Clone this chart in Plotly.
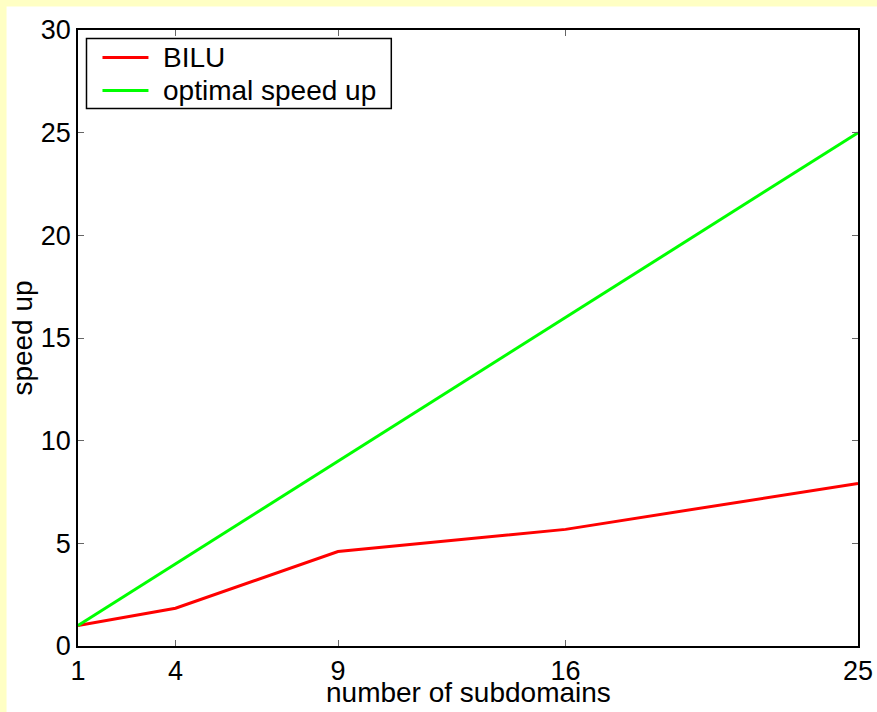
import plotly.graph_objects as go

# Parallel speed-up versus number of subdomains
subdomains = [1, 4, 9, 16, 25]
bilu_speedup = [1.0, 1.84, 4.6, 5.68, 7.92]
optimal_speedup = [1, 4, 9, 16, 25]
x_ticks = [1, 4, 9, 16, 25]
y_ticks = [0, 5, 10, 15, 20, 25, 30]
series_names = ["BILU", "optimal speed up"]
series_colors = ["#ff0000", "#00ff00"]

FONT = "Liberation Sans, Arial, Helvetica, sans-serif"
W, H = 877, 712
L, R, T, B = 77.5, 19, 29.5, 66.3
pw, ph = W - L - R, H - T - B


def px_x(x):
    """Pixel column -> paper x."""
    return (x - L) / pw


def px_y(y):
    """Pixel row -> paper y."""
    return 1 - (y - T) / ph


fig = go.Figure()
for name, ys, color in zip(series_names, [bilu_speedup, optimal_speedup], series_colors):
    fig.add_trace(go.Scatter(x=subdomains, y=ys, mode="lines", name=name,
                             line=dict(color=color, width=3), showlegend=False))

axis_common = dict(showline=True, linecolor="black", linewidth=1.5, mirror="ticks",
                   ticks="inside", ticklen=6, tickwidth=1, tickcolor="#666666",
                   showgrid=False, zeroline=False,
                   tickfont=dict(family=FONT, size=27, color="black"))

fig.update_xaxes(range=[1, 25], tickvals=x_ticks, ticktext=[str(v) for v in x_ticks],
                 **axis_common)
fig.update_yaxes(range=[0, 30], tickvals=y_ticks, ticktext=[str(v) for v in y_ticks],
                 title=dict(text="speed up", standoff=0,
                            font=dict(family=FONT, size=28, color="black")),
                 **axis_common)

# x-axis title
fig.add_annotation(text="number of subdomains", xref="paper", yref="paper",
                   x=px_x(468), y=px_y(710), xanchor="center", yanchor="bottom",
                   showarrow=False, font=dict(family=FONT, size=28, color="black"))

# light yellow frame with a white panel inset from the top-left corner
fig.add_shape(type="rect", xref="paper", yref="paper", layer="below",
              x0=px_x(6), x1=px_x(W + 5), y0=px_y(H + 5), y1=px_y(6),
              fillcolor="white", line=dict(width=0))

# legend box with line samples
fig.add_shape(type="rect", xref="paper", yref="paper",
              x0=px_x(86), x1=px_x(391), y0=px_y(108), y1=px_y(38),
              fillcolor="white", line=dict(color="black", width=1.5))
for i, (name, color) in enumerate(zip(series_names, series_colors)):
    yc = 57 + 33 * i
    fig.add_shape(type="line", xref="paper", yref="paper",
                  x0=px_x(102), x1=px_x(148), y0=px_y(yc), y1=px_y(yc),
                  line=dict(color=color, width=3))
    fig.add_annotation(text=name, xref="paper", yref="paper",
                       x=px_x(161), y=px_y(yc), xanchor="left", yanchor="middle",
                       showarrow=False, font=dict(family=FONT, size=28, color="black"))

fig.update_layout(
    width=W, height=H,
    margin=dict(l=L, r=R, t=T, b=B, autoexpand=False),
    paper_bgcolor="rgb(255,255,196)",
    plot_bgcolor="white",
    font=dict(family=FONT, size=28, color="black"),
    showlegend=False,
)

fig.write_html("out.html")
